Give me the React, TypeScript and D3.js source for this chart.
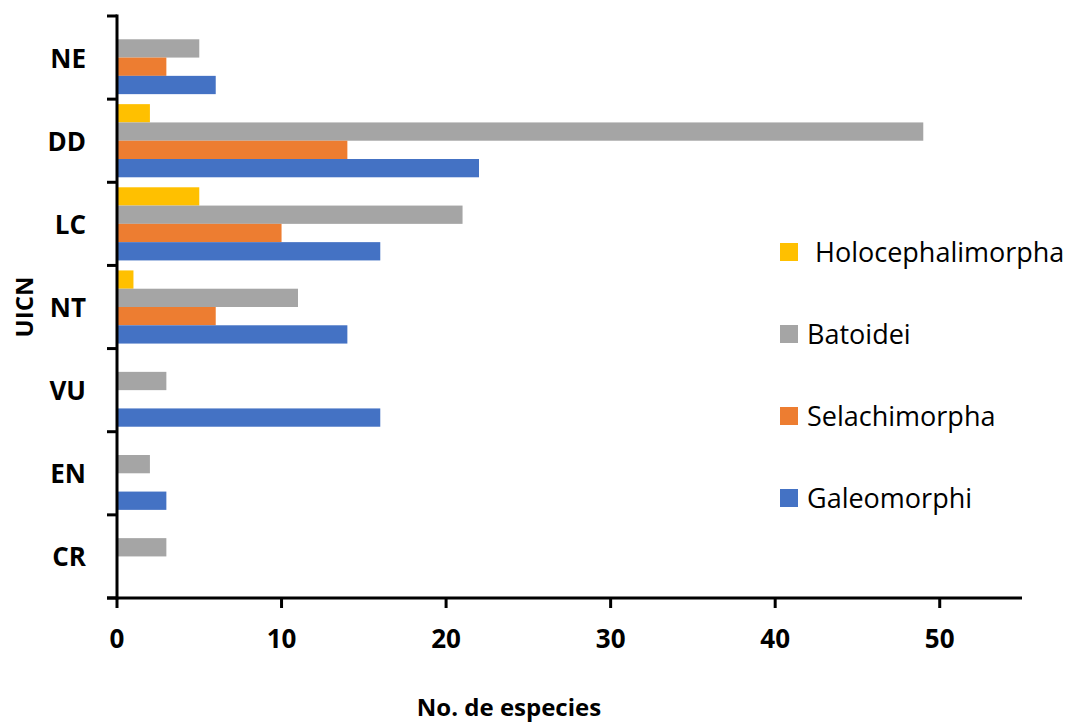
import React from "react";
import * as d3 from "d3";

// IUCN categories (top to bottom) and the four groups drawn inside each band
const categories = ["NE", "DD", "LC", "NT", "VU", "EN", "CR"];
const seriesNames = ["Holocephalimorpha", "Batoidei", "Selachimorpha", "Galeomorphi"];
const seriesColors = ["#FFC000", "#A5A5A5", "#ED7D31", "#4472C4"];

// Number of species per category, one array per group
const holocephalimorpha = [0, 2, 5, 1, 0, 0, 0];
const batoidei = [5, 49, 21, 11, 3, 2, 3];
const selachimorpha = [3, 14, 10, 6, 0, 0, 0];
const galeomorphi = [6, 22, 16, 14, 16, 3, 0];

const xTicks = [0, 10, 20, 30, 40, 50];
const xMax = 55;

const seriesValues = [holocephalimorpha, batoidei, selachimorpha, galeomorphi];

const W = 1071;
const H = 723;
const plot = { left: 117, right: 1022, top: 16, bottom: 598 };
const FONT = "'Open Sans', 'DejaVu Sans', sans-serif";

export default function App() {
  const x = d3.scaleLinear().domain([0, xMax]).range([plot.left, plot.right]);
  const y = d3.scaleBand<string>().domain(categories).range([plot.top, plot.bottom]).padding(0);
  const inner = d3
    .scaleBand<string>()
    .domain(seriesNames)
    .range([5, y.bandwidth() - 5])
    .padding(0);

  const bandEdges = [...categories.map((c) => y(c) as number), plot.bottom];

  return (
    <svg
      width={W}
      height={H}
      style={{ position: "absolute", left: 0, top: 0, background: "#fff" }}
      fontFamily={FONT}
    >
      {/* bars */}
      {categories.map((c, ci) => (
        <g key={c} transform={`translate(0,${y(c)})`}>
          {seriesNames.map((s, si) => {
            const v = seriesValues[si][ci];
            if (!v) return null;
            return (
              <rect
                key={s}
                x={x(0)}
                y={inner(s)}
                width={x(v) - x(0)}
                height={inner.bandwidth()}
                fill={seriesColors[si]}
              />
            );
          })}
        </g>
      ))}

      {/* y axis with ticks between categories */}
      <line x1={plot.left} x2={plot.left} y1={plot.top - 1.5} y2={plot.bottom + 1.5} stroke="#000" strokeWidth={3} />
      {bandEdges.map((e, i) => (
        <line key={i} x1={plot.left - 10} x2={plot.left} y1={e} y2={e} stroke="#000" strokeWidth={3} />
      ))}
      {categories.map((c) => (
        <text
          key={c}
          x={86}
          y={(y(c) as number) + y.bandwidth() / 2 + 10}
          textAnchor="end"
          fontSize={26}
          fontWeight="bold"
          fill="#000"
        >
          {c}
        </text>
      ))}

      {/* x axis */}
      <line x1={plot.left - 10} x2={plot.right} y1={plot.bottom} y2={plot.bottom} stroke="#000" strokeWidth={3} />
      {xTicks.map((t) => (
        <g key={t}>
          <line x1={x(t)} x2={x(t)} y1={plot.bottom} y2={plot.bottom + 10} stroke="#000" strokeWidth={3} />
          <text x={x(t)} y={648} textAnchor="middle" fontSize={26} fontWeight="bold" fill="#000">
            {t}
          </text>
        </g>
      ))}

      {/* axis titles */}
      <text
        transform={`translate(33,${(plot.top + plot.bottom) / 2}) rotate(-90)`}
        textAnchor="middle"
        fontSize={24}
        fontWeight="bold"
        fill="#000"
      >
        UICN
      </text>
      <text x={509} y={716} textAnchor="middle" fontSize={24} fontWeight="bold" fill="#000">
        No. de especies
      </text>

      {/* legend */}
      {seriesNames.map((s, i) => {
        const cy = 252 + i * 82;
        return (
          <g key={s}>
            <rect x={780} y={cy - 9} width={18} height={18} fill={seriesColors[i]} />
            <text x={i === 0 ? 815 : 807} y={cy + 10} fontSize={27} fill="#000">
              {s}
            </text>
          </g>
        );
      })}
    </svg>
  );
}
